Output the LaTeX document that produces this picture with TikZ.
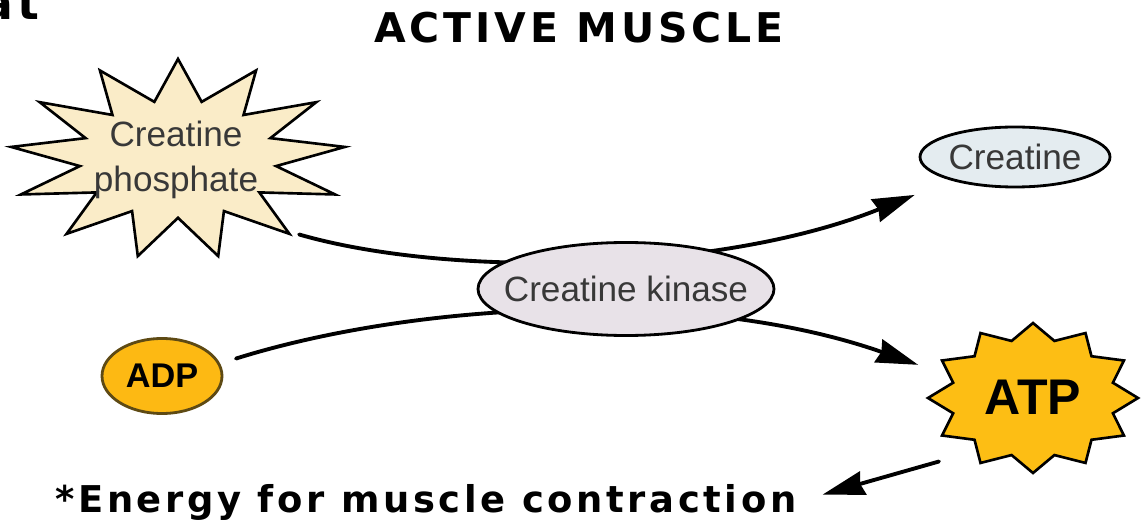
\documentclass[tikz,border=0pt]{standalone}
\usepackage{fontspec}
\setmainfont{Liberation Sans}
\newfontfamily\headfont{DejaVu Sans}[LetterSpace=9.5]
\newfontfamily\energyfont{DejaVu Sans}[LetterSpace=9.8]
\usepackage{tikz}
\usetikzlibrary{arrows.meta,shapes.geometric}
\usepackage{xcolor}
\definecolor{cpfill}{HTML}{FAECC8}
\definecolor{crfill}{HTML}{E4ECF0}
\definecolor{kinfill}{HTML}{E8E2E8}
\definecolor{adpfill}{HTML}{FDB913}
\definecolor{adpline}{HTML}{5E4A14}
\definecolor{atpfill}{HTML}{FDBE14}

\begin{document}
\begin{tikzpicture}[x=0.2mm,y=0.2mm,line cap=round,
  >={Stealth[length=8.4mm,width=4.8mm,inset=0.6mm]},
  flow/.style={->,line width=2.2pt},
  oval/.style={ellipse,draw,line width=1.6pt,inner sep=0pt,outer sep=0pt,text=black!78,font=\fontsize{20}{24}\selectfont},
  burst/.style={star,draw,line width=1.5pt,inner sep=0pt,outer sep=0pt,transform shape},
  nodetext/.style={ellipse,inner sep=0pt,outer sep=0pt,text=black!78,font=\fontsize{20}{25.5}\selectfont}]
\useasboundingbox (0,0) rectangle (1142,523);
\node[anchor=base east,inner sep=0pt,font=\headfont\bfseries\fontsize{26}{26}\selectfont] (cut) at (40,503) {at};
\node[inner sep=0pt,font=\headfont\bfseries\fontsize{23.3}{24}\selectfont] (title) at (579,495) {ACTIVE MUSCLE};
\node[burst,star points=13,star point ratio=1.7,minimum size=40mm,xscale=1.68,fill=cpfill] (cpstar) at (178,364) {};
\node[nodetext,minimum width=67.2mm,minimum height=40mm,align=center] (cp) at (176,363) {Creatine\\phosphate};
\node[oval,fill=crfill,minimum width=38mm,minimum height=12mm] (cr) at (1015,366) {Creatine};
\node[oval,fill=adpfill,draw=adpline,minimum width=24mm,minimum height=15mm,text=black,font=\bfseries\fontsize{19.5}{20}\selectfont] (adp) at (162,147) {ADP};
\node[burst,star points=12,star point ratio=1.27,minimum size=30mm,xscale=1.4,fill=atpfill] (atpstar) at (1033,125) {};
\node[nodetext,minimum width=42mm,minimum height=30mm,text=black,font=\bfseries\fontsize{28.5}{30}\selectfont] (atp) at (1033,126) {ATP};
\node[anchor=base west,inner sep=0pt,font=\energyfont\bfseries\fontsize{21}{24}\selectfont] (energy) at (55,11) {*Energy for muscle contraction};
\draw[flow,shorten <=1.5mm,shorten >=8.2mm] (cp.-32) .. controls (450,245) and (720,250) .. (cr.200);
\draw[flow,shorten <=3.6mm,shorten >=3.5mm] (adp.12) .. controls (420,222) and (700,235) .. (atp.165);
\draw[flow,shorten <=5.4mm,shorten >=5.4mm] (atp.220) -- (energy.east);
\node[oval,fill=kinfill,inner xsep=-3.9mm,minimum width=59.2mm,minimum height=18.6mm] (kin) at (626,234) {Creatine kinase};
\end{tikzpicture}
\end{document}
